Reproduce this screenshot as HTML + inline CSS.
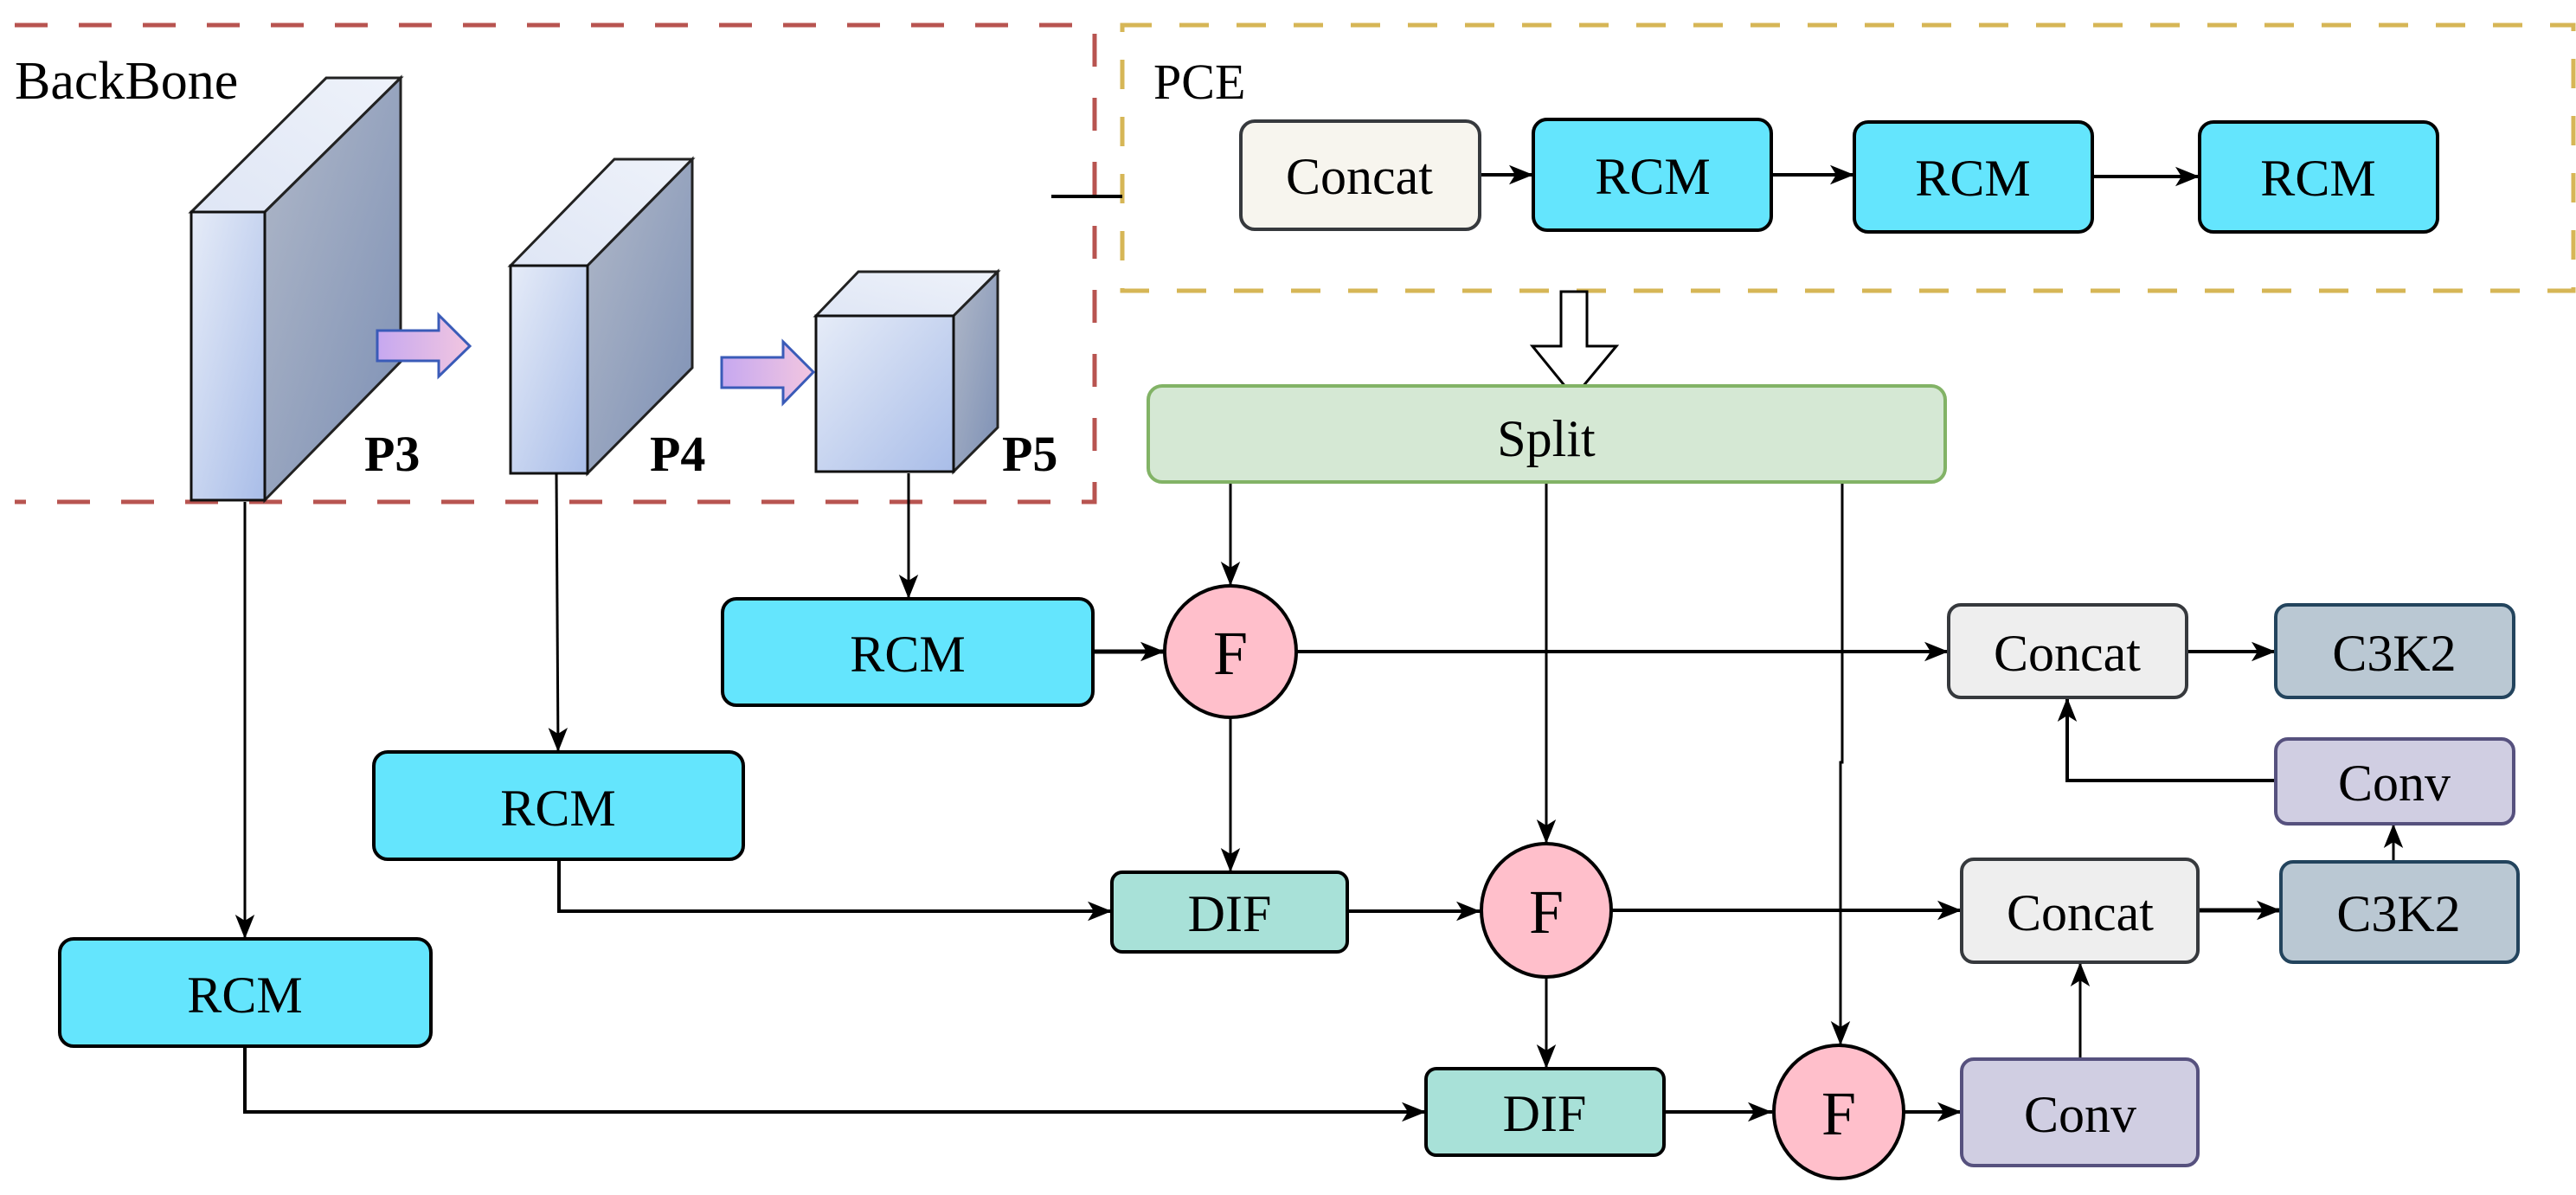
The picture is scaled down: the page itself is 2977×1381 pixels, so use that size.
<!DOCTYPE html>
<html><head><meta charset="utf-8"><style>html,body{margin:0;padding:0;background:#fff}svg{display:block}text{font-family:"Liberation Serif",serif}</style></head><body>
<svg width="2977" height="1381" viewBox="0 0 2977 1381" xmlns="http://www.w3.org/2000/svg">
<defs>
<linearGradient id="front" x1="0" y1="0" x2="1" y2="1"><stop offset="0" stop-color="#e6ecf8"/><stop offset="1" stop-color="#a9bde8"/></linearGradient>
<linearGradient id="top" x1="0" y1="1" x2="1" y2="0"><stop offset="0" stop-color="#dfe6f5"/><stop offset="1" stop-color="#eef2fa"/></linearGradient>
<linearGradient id="side" x1="0" y1="0" x2="1" y2="1"><stop offset="0" stop-color="#b0b8c8"/><stop offset="1" stop-color="#7d90b5"/></linearGradient>
<linearGradient id="barr" x1="0" y1="0" x2="1" y2="0"><stop offset="0" stop-color="#c6a8f0"/><stop offset="1" stop-color="#f2c6e0"/></linearGradient>
<marker id="a" viewBox="0 0 10 10" refX="10" refY="5" markerWidth="28" markerHeight="28" markerUnits="userSpaceOnUse" orient="auto"><path d="M0,1 L10,5 L0,9 L2.5,5 z" fill="#000"/></marker>
</defs>

<path d="M17,29 H1265 V580 H17" fill="none" stroke="#b85450" stroke-width="5" stroke-dasharray="38,36"/>
<rect x="1297" y="29" width="1677" height="307" fill="none" stroke="#d6b656" stroke-width="5" stroke-dasharray="34,32"/>
<line x1="1215" y1="227" x2="1297" y2="227" stroke="#000" stroke-width="4"/>
<text x="17" y="114" font-size="62">BackBone</text>
<text x="1333" y="114" font-size="58">PCE</text>

<polygon points="221,245 377,90 463,90 306,245" fill="url(#top)" stroke="#222" stroke-width="3"/>
<polygon points="306,245 463,90 463,418 306,578" fill="url(#side)" stroke="#222" stroke-width="3"/>
<rect x="221" y="245" width="85" height="333" fill="url(#front)" stroke="#111" stroke-width="3"/>
<polygon points="590,307 710,184 800,184 679,307" fill="url(#top)" stroke="#222" stroke-width="3"/>
<polygon points="679,307 800,184 800,425 679,547" fill="url(#side)" stroke="#222" stroke-width="3"/>
<rect x="590" y="307" width="89" height="240" fill="url(#front)" stroke="#111" stroke-width="3"/>
<polygon points="943,365 992,314 1153,314 1102,365" fill="url(#top)" stroke="#222" stroke-width="3"/>
<polygon points="1102,365 1153,314 1153,494 1102,545" fill="url(#side)" stroke="#222" stroke-width="3"/>
<rect x="943" y="365" width="159" height="180" fill="url(#front)" stroke="#111" stroke-width="3"/>
<polygon points="436,382 507,382 507,364 543,400 507,435 507,417 436,417" fill="url(#barr)" stroke="#3a5bb8" stroke-width="3"/>
<polygon points="834,413 905,413 905,395 940,430 905,466 905,448 834,448" fill="url(#barr)" stroke="#3a5bb8" stroke-width="3"/>
<text x="421" y="544" font-size="58" font-weight="bold">P3</text>
<text x="751" y="544" font-size="58" font-weight="bold">P4</text>
<text x="1158" y="544" font-size="58" font-weight="bold">P5</text>

<g stroke="#000" fill="none">
<line x1="1710" y1="202" x2="1772" y2="202" stroke-width="4" marker-end="url(#a)"/>
<line x1="2047" y1="202" x2="2143" y2="202" stroke-width="4" marker-end="url(#a)"/>
<line x1="2418" y1="204" x2="2542" y2="204" stroke-width="4" marker-end="url(#a)"/>
<line x1="283" y1="580" x2="283" y2="1085" stroke-width="3" marker-end="url(#a)"/>
<line x1="643" y1="547" x2="645" y2="869" stroke-width="3" marker-end="url(#a)"/>
<line x1="1050" y1="547" x2="1050" y2="692" stroke-width="3" marker-end="url(#a)"/>
<line x1="1422" y1="557" x2="1422" y2="677" stroke-width="3" marker-end="url(#a)"/>
<line x1="1787" y1="557" x2="1787" y2="975" stroke-width="3" marker-end="url(#a)"/>
<path d="M2129,557 V881 H2127 V1208" stroke-width="3" marker-end="url(#a)"/>
<line x1="1263" y1="753" x2="1346" y2="753" stroke-width="5" marker-end="url(#a)"/>
<line x1="1498" y1="753" x2="2252" y2="753" stroke-width="4" marker-end="url(#a)"/>
<line x1="1422" y1="829" x2="1422" y2="1008" stroke-width="3" marker-end="url(#a)"/>
<path d="M646,993 V1053 H1285" stroke-width="4" marker-end="url(#a)"/>
<line x1="1557" y1="1053" x2="1711" y2="1053" stroke-width="4" marker-end="url(#a)"/>
<line x1="1862" y1="1052" x2="2267" y2="1052" stroke-width="4" marker-end="url(#a)"/>
<line x1="1787" y1="1129" x2="1787" y2="1235" stroke-width="3" marker-end="url(#a)"/>
<path d="M283,1209 V1285 H1648" stroke-width="4" marker-end="url(#a)"/>
<line x1="1923" y1="1285" x2="2048" y2="1285" stroke-width="4" marker-end="url(#a)"/>
<line x1="2200" y1="1285" x2="2267" y2="1285" stroke-width="4" marker-end="url(#a)"/>
<line x1="2404" y1="1224" x2="2404" y2="1112" stroke-width="3" marker-end="url(#a)"/>
<line x1="2527" y1="753" x2="2630" y2="753" stroke-width="4" marker-end="url(#a)"/>
<line x1="2540" y1="1052" x2="2636" y2="1052" stroke-width="5" marker-end="url(#a)"/>
<line x1="2766" y1="996" x2="2766" y2="952" stroke-width="3" marker-end="url(#a)"/>
<path d="M2630,902 H2389 V806" stroke-width="4" marker-end="url(#a)"/>
</g>

<polygon points="1804,337 1834,337 1834,400 1868,400 1819,459 1771,400 1804,400" fill="#fff" stroke="#000" stroke-width="3"/>

<g font-size="60" text-anchor="middle" dominant-baseline="central">
<rect x="1434" y="140" width="276" height="125" rx="16" fill="#f7f5ee" stroke="#36393d" stroke-width="4"/><text x="1571" y="204">Concat</text>
<rect x="1772" y="138" width="275" height="128" rx="16" fill="#64e5fd" stroke="#000" stroke-width="4"/><text x="1910" y="204">RCM</text>
<rect x="2143" y="141" width="275" height="127" rx="16" fill="#64e5fd" stroke="#000" stroke-width="4"/><text x="2280" y="206">RCM</text>
<rect x="2542" y="141" width="275" height="127" rx="16" fill="#64e5fd" stroke="#000" stroke-width="4"/><text x="2679" y="206">RCM</text>
<rect x="1327" y="446" width="921" height="111" rx="16" fill="#d5e8d4" stroke="#82b366" stroke-width="4"/><text x="1787" y="507">Split</text>
<rect x="835" y="692" width="428" height="123" rx="16" fill="#64e5fd" stroke="#000" stroke-width="4"/><text x="1049" y="756">RCM</text>
<rect x="432" y="869" width="427" height="124" rx="16" fill="#64e5fd" stroke="#000" stroke-width="4"/><text x="645" y="934">RCM</text>
<rect x="69" y="1085" width="429" height="124" rx="16" fill="#64e5fd" stroke="#000" stroke-width="4"/><text x="283" y="1150">RCM</text>
<rect x="1285" y="1008" width="272" height="92" rx="12" fill="#a8e1d8" stroke="#000" stroke-width="4"/><text x="1421" y="1056">DIF</text>
<rect x="1648" y="1235" width="275" height="100" rx="12" fill="#a8e1d8" stroke="#000" stroke-width="4"/><text x="1785" y="1287">DIF</text>
<rect x="2252" y="699" width="275" height="107" rx="14" fill="#eeeeee" stroke="#36393d" stroke-width="4"/><text x="2389" y="755">Concat</text>
<rect x="2267" y="993" width="273" height="119" rx="14" fill="#eeeeee" stroke="#36393d" stroke-width="4"/><text x="2404" y="1055">Concat</text>
<rect x="2630" y="699" width="275" height="107" rx="14" fill="#bac8d3" stroke="#23445d" stroke-width="4"/><text x="2767" y="755">C3K2</text>
<rect x="2636" y="996" width="274" height="116" rx="14" fill="#bac8d3" stroke="#23445d" stroke-width="4"/><text x="2772" y="1056">C3K2</text>
<rect x="2630" y="854" width="275" height="98" rx="14" fill="#d0cee2" stroke="#56517e" stroke-width="4"/><text x="2767" y="905">Conv</text>
<rect x="2267" y="1224" width="273" height="123" rx="14" fill="#d0cee2" stroke="#56517e" stroke-width="4"/><text x="2404" y="1288">Conv</text>
</g>
<g font-size="72" text-anchor="middle" dominant-baseline="central">
<ellipse cx="1422" cy="753" rx="76" ry="76" fill="#ffbfcb" stroke="#000" stroke-width="4"/><text x="1422" y="755">F</text>
<ellipse cx="1787" cy="1052" rx="75" ry="77" fill="#ffbfcb" stroke="#000" stroke-width="4"/><text x="1787" y="1054">F</text>
<ellipse cx="2125" cy="1285" rx="75" ry="77" fill="#ffbfcb" stroke="#000" stroke-width="4"/><text x="2125" y="1287">F</text>
</g>
</svg>
</body></html>
